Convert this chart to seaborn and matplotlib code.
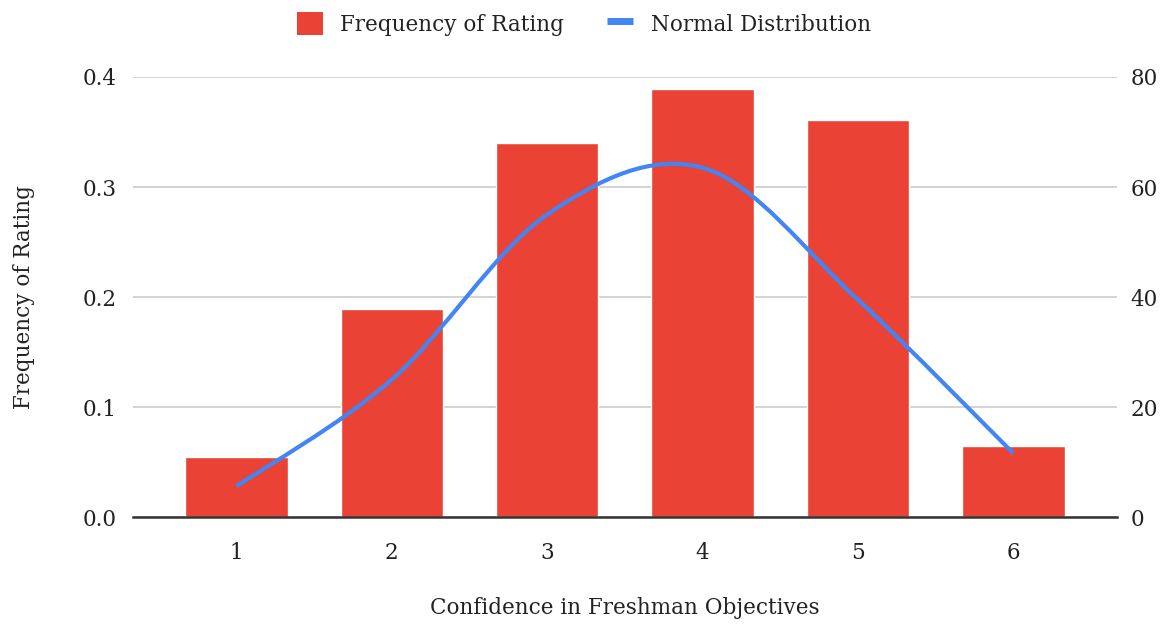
import matplotlib

matplotlib.use("Agg")

import matplotlib.pyplot as plt
import pandas as pd
import seaborn as sns
from matplotlib.lines import Line2D
from matplotlib.patches import Patch, PathPatch
from matplotlib.path import Path

ratings = ["1", "2", "3", "4", "5", "6"]
frequency = [0.055, 0.189, 0.340, 0.389, 0.361, 0.065]
normal_curve = [5.6, 25.0, 55.0, 63.5, 39.5, 11.6]

bar_color = "#EA4335"
line_color = "#4285F4"
text_color = "#222222"
font_size = 15.5

sns.set_theme(style="white")
plt.rcParams["font.family"] = ["DejaVu Serif"]

df = pd.DataFrame({"rating": ratings, "frequency": frequency})

fig, ax = plt.subplots(figsize=(11.68, 6.26), dpi=100)
fig.subplots_adjust(left=0.114, right=0.956, top=0.877, bottom=0.174)

sns.barplot(data=df, x="rating", y="frequency", color=bar_color,
            saturation=1, width=0.66, ax=ax)
ax.set_xlim(-0.665, 5.665)
ax.set_ylim(0, 0.4)
ax.set_yticks([0, 0.1, 0.2, 0.3, 0.4])
ax.set_yticklabels(["0.0", "0.1", "0.2", "0.3", "0.4"])
ax.grid(axis="y", color="#cccccc", linewidth=1.2)
ax.set_axisbelow(True)
for side in ("top", "right", "left"):
    ax.spines[side].set_visible(False)
ax.spines["bottom"].set_color("#333333")
ax.spines["bottom"].set_linewidth(1.8)
ax.tick_params(axis="y", length=0, labelsize=font_size, colors=text_color, pad=12)
ax.tick_params(axis="x", length=0, labelsize=font_size, colors=text_color, pad=18)
ax.set_xlabel("Confidence in Freshman Objectives", fontsize=font_size,
              color=text_color, labelpad=24)
ax.set_ylabel("Frequency of Rating", fontsize=font_size, color=text_color,
              labelpad=34)

ax2 = ax.twinx()
ax2.set_ylim(0, 80)
ax2.set_yticks([0, 20, 40, 60, 80])
for side in ax2.spines:
    ax2.spines[side].set_visible(False)
ax2.tick_params(axis="y", length=0, labelsize=font_size, colors=text_color, pad=10)

# smooth curve through the points (Catmull-Rom as cubic Bezier segments)
pts = list(enumerate(normal_curve))
verts = [pts[0]]
codes = [Path.MOVETO]
for i in range(len(pts) - 1):
    p0 = pts[max(i - 1, 0)]
    p1 = pts[i]
    p2 = pts[i + 1]
    p3 = pts[min(i + 2, len(pts) - 1)]
    c1 = (p1[0] + (p2[0] - p0[0]) / 6, p1[1] + (p2[1] - p0[1]) / 6)
    c2 = (p2[0] - (p3[0] - p1[0]) / 6, p2[1] - (p3[1] - p1[1]) / 6)
    verts += [c1, c2, p2]
    codes += [Path.CURVE4] * 3
ax2.add_patch(PathPatch(Path(verts, codes), facecolor="none",
                        edgecolor=line_color, linewidth=3))

handles = [
    Patch(facecolor=bar_color, edgecolor="none"),
    Line2D([0], [0], color=line_color, linewidth=5, solid_capstyle="butt"),
]
fig.legend(handles, ["Frequency of Rating", "Normal Distribution"],
           loc="upper center", bbox_to_anchor=(0.5, 1.012), ncol=2,
           frameon=False, fontsize=font_size, handlelength=1.2, handleheight=1.3,
           columnspacing=2.0, handletextpad=0.8, labelcolor=text_color)

fig.savefig("out.png", dpi=100)
